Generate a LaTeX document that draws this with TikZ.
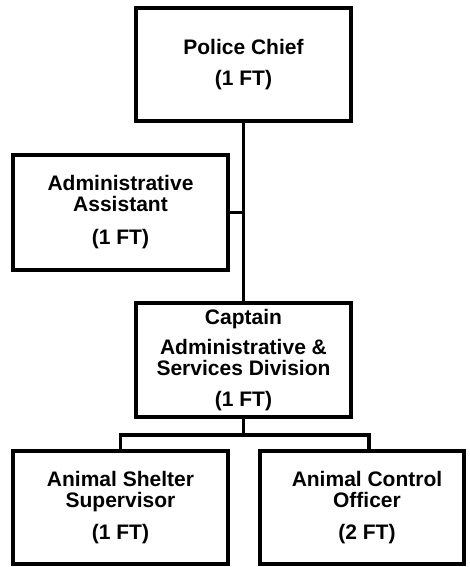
\documentclass[tikz,border=0pt]{standalone}
\usepackage{fontspec}
\setmainfont{Liberation Sans}
\begin{document}
\begin{tikzpicture}[x=1pt,y=-1pt,
  box/.style={draw=black, line width=3.6pt, fill=white, align=center, inner sep=0pt,
    font=\fontsize{21}{21}\selectfont\bfseries},
  link/.style={draw=black, line width=3.6pt}]
\useasboundingbox (0,0) rectangle (469,567);
% connectors
\node[box, minimum width=215pt, minimum height=113pt] (chief) at (243.5,64.5) {Police Chief\\[10pt](1 FT)};
\node[box, minimum width=215pt, minimum height=115pt] (admin) at (120.5,212.5) {Administrative\\Assistant\\[12pt](1 FT)};
\node[box, minimum width=215pt, minimum height=114pt] (capt) at (243.5,360) {Captain\\[9pt]Administrative \&\\Services Division\\[10pt](1 FT)};
\node[box, minimum width=215pt, minimum height=113pt] (shelter) at (120.5,507.5) {Animal Shelter\\Supervisor\\[11pt](1 FT)};
\node[box, minimum width=204pt, minimum height=113pt, xshift=0pt] (control) at (362,507.5) {\hspace*{10pt}Animal Control\\\hspace*{10pt}Officer\\[11pt]\hspace*{10pt}(2 FT)};
\coordinate (bus) at (243.5,435);
\coordinate (ctrltop) at ([xshift=7pt]control.north);
\begin{scope}[on background layer/.try]
\end{scope}
\draw[link] (chief.south) -- (capt.north);
\draw[link] (admin.east) -- (admin.east -| chief.south);
\draw[link] (capt.south) -- (bus);
\draw[link, line join=miter] (shelter.north) |- (bus) -| (ctrltop);
\end{tikzpicture}
\end{document}
